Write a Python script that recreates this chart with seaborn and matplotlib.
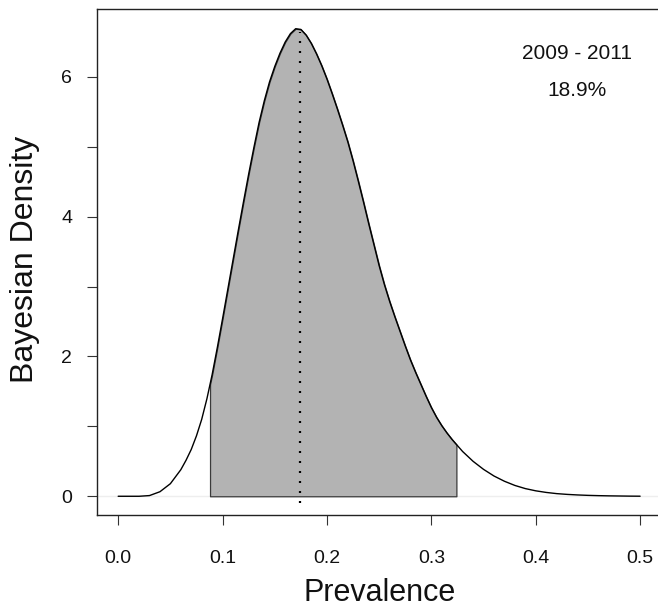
import numpy as np
import pandas as pd
import matplotlib
matplotlib.use("Agg")
import matplotlib.pyplot as plt
import seaborn as sns

# ---- data ----
prevalence = [0.000, 0.010, 0.020, 0.030, 0.040, 0.050, 0.060, 0.065, 0.070, 0.075,
              0.080, 0.085, 0.090, 0.095, 0.100, 0.105, 0.110, 0.115, 0.120, 0.125,
              0.130, 0.135, 0.140, 0.145, 0.150, 0.155, 0.160, 0.165, 0.170, 0.175,
              0.180, 0.185, 0.190, 0.195, 0.200, 0.205, 0.210, 0.215, 0.220, 0.225,
              0.230, 0.235, 0.240, 0.245, 0.250, 0.255, 0.260, 0.265, 0.270, 0.275,
              0.280, 0.285, 0.290, 0.295, 0.300, 0.305, 0.310, 0.315, 0.320, 0.325,
              0.330, 0.335, 0.340, 0.350, 0.360, 0.370, 0.380, 0.390, 0.400, 0.410,
              0.420, 0.430, 0.440, 0.450, 0.460, 0.470, 0.480, 0.490, 0.500]
density = [0.000, 0.000, 0.000, 0.010, 0.065, 0.180, 0.380, 0.515, 0.670, 0.865,
           1.100, 1.395, 1.740, 2.130, 2.540, 2.960, 3.380, 3.800, 4.210, 4.610,
           4.990, 5.350, 5.660, 5.930, 6.150, 6.340, 6.500, 6.620, 6.690, 6.680,
           6.600, 6.480, 6.330, 6.160, 5.970, 5.760, 5.540, 5.310, 5.070, 4.800,
           4.510, 4.210, 3.900, 3.600, 3.300, 3.030, 2.790, 2.570, 2.360, 2.150,
           1.950, 1.770, 1.600, 1.430, 1.270, 1.130, 1.010, 0.905, 0.810, 0.725,
           0.640, 0.570, 0.500, 0.385, 0.290, 0.215, 0.155, 0.110, 0.078, 0.055,
           0.038, 0.027, 0.019, 0.013, 0.009, 0.006, 0.004, 0.002, 0.001]
ci_low, ci_low_density = 0.088, 1.60
ci_high, ci_high_density = 0.324, 0.74
mode_x, mode_y = 0.174, 6.65
period_label = "2009 - 2011"
estimate_label = "18.9%"
x_ticks = [0.0, 0.1, 0.2, 0.3, 0.4, 0.5]
x_ticklabels = ["0.0", "0.1", "0.2", "0.3", "0.4", "0.5"]
y_ticks = [0, 1, 2, 3, 4, 5, 6]
y_ticklabels = ["0", "", "2", "", "4", "", "6"]

df = pd.DataFrame({"Prevalence": prevalence, "Density": density})

sns.set_theme(style="white")
plt.rcParams["font.family"] = ["Liberation Sans", "DejaVu Sans"]

W, H = 658, 608
fig = plt.figure(figsize=(W / 100, H / 100), dpi=100)
left_px, right_px, top_px, bottom_px = 97.3, 661.0, 9.3, 515.0
ax = fig.add_axes([left_px / W, (H - bottom_px) / H,
                   (right_px - left_px) / W, (bottom_px - top_px) / H])

ax.axhline(0, color="#eeeeee", lw=1.0, zorder=0)

# shaded interval
inner = df[(df["Prevalence"] > ci_low) & (df["Prevalence"] < ci_high)]
fx = [ci_low] + inner["Prevalence"].tolist() + [ci_high]
fy = [ci_low_density] + inner["Density"].tolist() + [ci_high_density]
ax.fill_between(fx, 0, fy, facecolor="#b3b3b3", edgecolor="#3a3a3a", lw=0.9, zorder=1)

# density curve
sns.lineplot(data=df, x="Prevalence", y="Density", color="black", lw=1.0,
             ax=ax, zorder=3)

# dotted mode line
ax.plot([mode_x, mode_x], [-0.1, mode_y], color="black", lw=1.6,
        linestyle=(0, (0.9, 3.6)), zorder=4)

ax.text(0.44, 6.34, period_label, ha="center", va="center", fontsize=15, color="#111111")
ax.text(0.44, 5.81, estimate_label, ha="center", va="center", fontsize=15, color="#111111")

ax.set_xlim(-0.02, 0.52)
ax.set_ylim(-0.268, 6.968)
ax.set_xticks(x_ticks)
ax.set_xticklabels(x_ticklabels)
ax.set_yticks(y_ticks)
ax.set_yticklabels(y_ticklabels)

for s in ["left", "bottom", "top", "right"]:
    ax.spines[s].set_color("#222222")
    ax.spines[s].set_linewidth(1.0)

ax.tick_params(axis="both", which="major", direction="out", length=7.2, width=0.8,
               color="#333333", labelsize=14, labelcolor="#111111",
               bottom=True, left=True, top=False, right=False)
ax.tick_params(axis="x", pad=18)
ax.tick_params(axis="y", pad=11)

ax.set_xlabel("Prevalence", fontsize=22, color="#111111")
ax.set_ylabel("Bayesian Density", fontsize=23, color="#111111")
ax.xaxis.label.set_va("baseline")
ax.xaxis.set_label_coords(0.5, -(601 - bottom_px) / (bottom_px - top_px))
ax.yaxis.label.set_va("baseline")
ax.yaxis.label.set_rotation_mode("anchor")
ax.yaxis.set_label_coords((33 - left_px) / (right_px - left_px), 0.505)

fig.savefig("out.png", dpi=100)
